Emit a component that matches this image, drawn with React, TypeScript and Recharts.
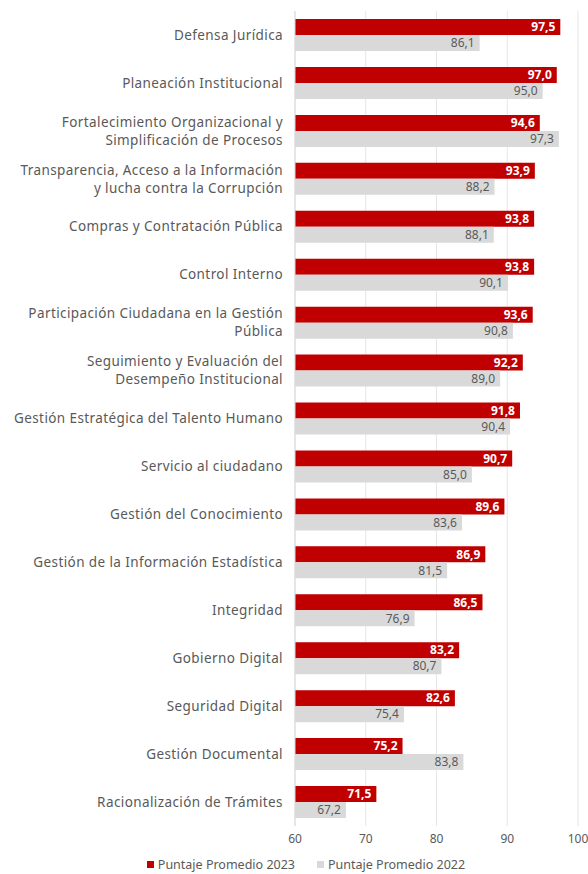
import { BarChart, Bar, XAxis, YAxis, CartesianGrid, LabelList, Legend } from "recharts";

// categorías (con salto de línea donde el original corta el texto)
const categories = [
  "Defensa Jurídica",
  "Planeación Institucional",
  "Fortalecimiento Organizacional y\nSimplificación de Procesos",
  "Transparencia, Acceso a la Información\ny lucha contra la Corrupción",
  "Compras y Contratación Pública",
  "Control Interno",
  "Participación Ciudadana en la Gestión\nPública",
  "Seguimiento y Evaluación del\nDesempeño Institucional",
  "Gestión Estratégica del Talento Humano",
  "Servicio al ciudadano",
  "Gestión del Conocimiento",
  "Gestión de la Información Estadística",
  "Integridad",
  "Gobierno Digital",
  "Seguridad Digital",
  "Gestión Documental",
  "Racionalización de Trámites",
];

const puntaje2023 = [97.5, 97.0, 94.6, 93.9, 93.8, 93.8, 93.6, 92.2, 91.8, 90.7, 89.6, 86.9, 86.5, 83.2, 82.6, 75.2, 71.5];
const puntaje2022 = [86.1, 95.0, 97.3, 88.2, 88.1, 90.1, 90.8, 89.0, 90.4, 85.0, 83.6, 81.5, 76.9, 80.7, 75.4, 83.8, 67.2];

const xTicks = [60, 70, 80, 90, 100];

const RED = "#C00000";
const GRAY = "#D9D9D9";
const TEXT = "#595959";
const FONT = "'Noto Sans', sans-serif";

const data = categories.map((name, i) => ({
  name,
  p2023: puntaje2023[i],
  p2022: puntaje2022[i],
}));

const fmt = (v: unknown) => Number(v).toFixed(1).replace(".", ",");

function CategoryTick(props: any) {
  const { x, y, payload } = props;
  const lines = String(payload.value).split("\n");
  const lh = 18;
  const y0 = y - ((lines.length - 1) * lh) / 2;
  return (
    <text x={x - 4} y={y0} textAnchor="end" fill={TEXT} fontSize={13.5} letterSpacing={0.4} fontFamily={FONT}>
      {lines.map((l, i) => (
        <tspan key={i} x={x - 4} y={y0 + i * lh} dy="0.35em">
          {l}
        </tspan>
      ))}
    </text>
  );
}

function LegendContent() {
  const items = [
    { label: "Puntaje Promedio 2023", color: RED },
    { label: "Puntaje Promedio 2022", color: GRAY },
  ];
  return (
    <div style={{ display: "flex", justifyContent: "center", gap: 22, fontFamily: FONT, fontSize: 12.5, color: TEXT, paddingLeft: 34, height: 20 }}>
      {items.map((it) => (
        <span key={it.label} style={{ display: "flex", alignItems: "center", gap: 4 }}>
          <span style={{ width: 7, height: 7, background: it.color, display: "inline-block" }} />
          {it.label}
        </span>
      ))}
    </div>
  );
}

export default function App() {
  return (
    <div style={{ position: "absolute", left: 0, top: 0, width: 588, height: 874, background: "#fff" }}>
      <BarChart
        width={588}
        height={874}
        data={data}
        layout="vertical"
        margin={{ top: 11, right: 10, left: 0, bottom: 0 }}
        barGap={0}
      >
        <CartesianGrid horizontal={false} vertical={true} stroke="#E6E6E6" />
        <XAxis
          type="number"
          domain={[60, 100]}
          ticks={xTicks}
          axisLine={false}
          tickLine={false}
          tick={{ fill: TEXT, fontSize: 12, fontFamily: FONT }}
          height={28}
        />
        <YAxis
          type="category"
          dataKey="name"
          width={295}
          axisLine={{ stroke: "#D9D9D9" }}
          tickLine={false}
          tick={<CategoryTick />}
          interval={0}
        />
        <Legend verticalAlign="bottom" content={<LegendContent />} />
        <Bar dataKey="p2023" fill={RED} barSize={16} isAnimationActive={false}>
          <LabelList
            dataKey="p2023"
            position="insideRight"
            fill="#fff"
            fontSize={12}
            fontWeight="bold"
            fontFamily={FONT}
            formatter={fmt}
          />
        </Bar>
        <Bar dataKey="p2022" fill={GRAY} barSize={16} isAnimationActive={false}>
          <LabelList
            dataKey="p2022"
            position="insideRight"
            fill={TEXT}
            fontSize={12}
            fontFamily={FONT}
            formatter={fmt}
          />
        </Bar>
      </BarChart>
    </div>
  );
}
